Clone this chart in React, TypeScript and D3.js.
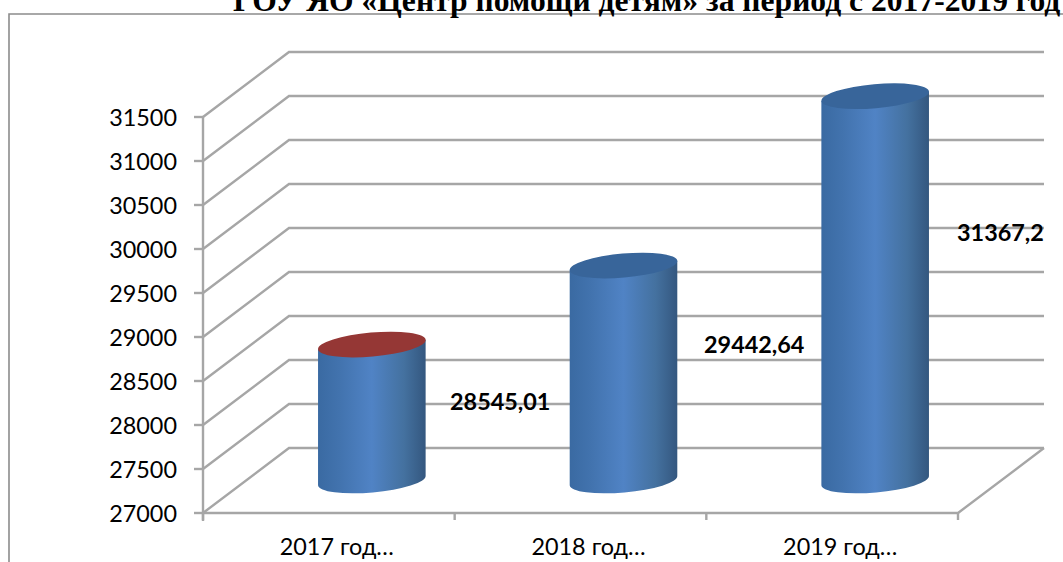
import React from "react";
import * as d3 from "d3";

const title = "ГОУ ЯО «Центр помощи детям» за период с 2017-2019 год";
const categories = ["2017 год…", "2018 год…", "2019 год…"];
const values = [28545.01, 29442.64, 31367.2];
const valueLabels = ["28545,01", "29442,64", "31367,2"];
const yTicks = [27000, 27500, 28000, 28500, 29000, 29500, 30000, 30500, 31000, 31500];
const topColors = ["#953735", "#38659a", "#38659a"];
const labelCenters = [402, 345, 233];
const labelLefts = [450, 704, 957];

const W = 1063, H = 562;
const depthX = 86, depthY = 65;
const y = d3.scaleLinear().domain([27000, 31500]).range([513, 117]);
const x = d3.scaleBand<string>().domain(categories).range([203, 958]);
const RX = 54, RY = 12, TILT = -5;
const GRID = "#a6a6a6";
const dx = RX * Math.cos((TILT * Math.PI) / 180);
const dy = -RX * Math.sin((TILT * Math.PI) / 180);

function Cylinder({ cx, top, bottom, fill }: { cx: number; top: number; bottom: number; fill: string }) {
  const body = `M${cx - dx},${top + dy} L${cx - dx},${bottom + dy} A${RX},${RY} ${TILT} 0 0 ${cx + dx},${bottom - dy} L${cx + dx},${top - dy} Z`;
  return (
    <g>
      <path d={body} fill="url(#cyl)" />
      <ellipse cx={cx} cy={top} rx={RX} ry={RY} fill={fill} transform={`rotate(${TILT} ${cx} ${top})`} />
    </g>
  );
}

export default function App() {
  const band = x.bandwidth();
  const frontRight = x.range()[1];
  const left = x.range()[0];
  return (
    <svg width={W} height={H} viewBox={`0 0 ${W} ${H}`} style={{ position: "absolute", left: 0, top: 0, background: "#fff" }}>
      <defs>
        <linearGradient id="cyl" x1="0" x2="1" y1="0" y2="0">
          <stop offset="0" stopColor="#3a6aa2" />
          <stop offset="0.2" stopColor="#4273ae" />
          <stop offset="0.5" stopColor="#5083c5" />
          <stop offset="0.8" stopColor="#44719f" />
          <stop offset="1" stopColor="#34577f" />
        </linearGradient>
      </defs>
      <path d={`M9,${H} L9,14 L${W},14`} fill="none" stroke="#8c8c8c" strokeWidth={1.6} />
      <text x={233} y={11} fontFamily="'Liberation Serif'" fontWeight="bold" fontSize={31.6} fill="#000">{title}</text>
      <g fill="none" stroke={GRID} strokeWidth={2.4}>
        {yTicks.map((t) => (
          <path key={t} d={`M${left},${y(t)} L${left + depthX},${y(t) - depthY} L${frontRight + depthX},${y(t) - depthY}`} />
        ))}
        <path d={`M${left},${y(27000)} L${frontRight},${y(27000)} L${frontRight + depthX},${y(27000) - depthY}`} />
        <path d={`M${left},${y(31500)} L${left},${y(27000) + 8}`} />
        {yTicks.map((t) => <path key={t} d={`M${left - 9},${y(t)} L${left},${y(t)}`} />)}
        {[...categories.map((c) => x(c)!), frontRight].map((p) => (
          <path key={p} d={`M${p},${y(27000)} L${p},${y(27000) + 7}`} />
        ))}
      </g>
      {categories.map((c, i) => (
        <Cylinder
          key={c}
          cx={x(c)! + band / 2 + depthX / 2}
          top={y(values[i]) - depthY / 2}
          bottom={y(27000) - depthY / 2}
          fill={topColors[i]}
        />
      ))}
      <g fontFamily="Lato" fontSize={23.4} fill="#000">
        {yTicks.map((t) => (
          <text key={t} x={177} y={y(t) + 8.5} textAnchor="end">{t}</text>
        ))}
        {categories.map((c) => (
          <text key={c} x={x(c)! + band / 2 + 8} y={555} textAnchor="middle">{c}</text>
        ))}
      </g>
      <g fontFamily="Lato" fontSize={23.4} fontWeight="bold" fill="#000">
        {valueLabels.map((l, i) => (
          <text key={l} x={labelLefts[i]} y={labelCenters[i]} dy="0.36em">{l}</text>
        ))}
      </g>
    </svg>
  );
}
